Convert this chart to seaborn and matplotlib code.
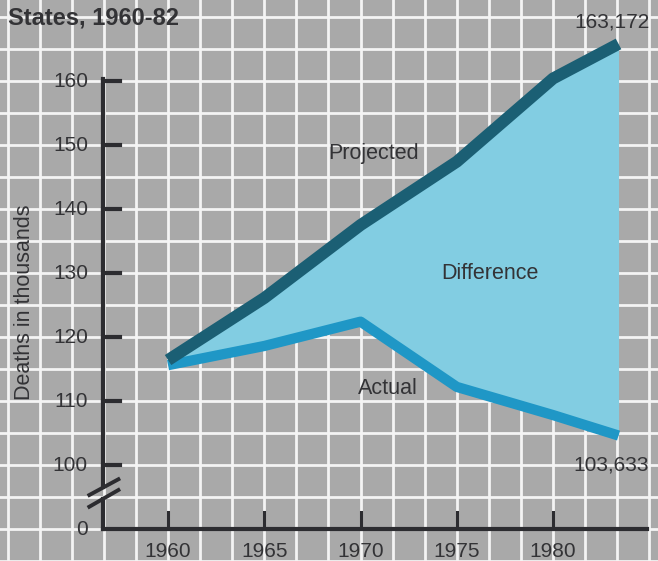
import numpy as np
import seaborn as sns
import matplotlib
matplotlib.use("Agg")
import matplotlib.pyplot as plt

# values (thousands of deaths)
years = [1960, 1965, 1970, 1975, 1980, 1983.4]
projected = [116.4, 126.1, 137.5, 147.4, 160.4, 165.8]
actual = [115.6, 118.6, 122.4, 112.2, 107.8, 104.6]

ytick_vals = [100, 110, 120, 130, 140, 150, 160]
xtick_vals = [1960, 1965, 1970, 1975, 1980]
zero_pos = 90  # where the "0" sits below the axis break
end_labels = ["163,172", "103,633"]

plt.rcParams['font.family'] = ['Liberation Sans', 'DejaVu Sans']
ink = '#333336'
axis_col = '#2c2c30'

fig = plt.figure(figsize=(6.58, 5.61), dpi=100)
ax = fig.add_axes([0, 0, 1, 1])
ax.set_facecolor('#a9a9a9')
for s in ax.spines.values():
    s.set_visible(False)

# graph-paper grid
ax.set_xticks(np.arange(1960 - 6 * 5 / 3, 1987, 5 / 3))
ax.set_yticks(np.arange(85, 175, 5))
ax.grid(True, color='#f4f4f4', lw=2.0)
ax.tick_params(length=0, labelbottom=False, labelleft=False)
ax.set_axisbelow(True)

# difference area and the two lines
ax.fill_between(years, actual, projected, color='#82cde2', lw=0, zorder=2)
sns.lineplot(x=years, y=actual, ax=ax, color='#1f97c6', lw=7.4, sort=False,
             solid_capstyle='butt', zorder=3)
sns.lineplot(x=years, y=projected, ax=ax, color='#1b5f74', lw=8.6, sort=False,
             solid_capstyle='butt', zorder=4)

# hand drawn style axes with a break
ax_x = 1956.62
ax.plot([ax_x, ax_x], [160.3, 96.5], color=axis_col, lw=3, solid_capstyle='projecting', zorder=5)
ax.plot([ax_x, ax_x], [94.75, zero_pos], color=axis_col, lw=3, zorder=5)
ax.plot([ax_x, 1984.9], [zero_pos, zero_pos], color=axis_col, lw=3, solid_capstyle='projecting', zorder=5)
ax.plot([1955.91, 1957.42], [95.31, 97.77], color=axis_col, lw=2.8, zorder=5)
ax.plot([1955.91, 1957.42], [93.48, 96.09], color=axis_col, lw=2.8, zorder=5)
for v in ytick_vals:
    ax.plot([ax_x, 1957.5], [v, v], color=axis_col, lw=3, zorder=5)
    ax.text(1955.84, v, str(v), ha='right', va='center', fontsize=15, color=ink)
ax.text(1955.84, zero_pos, '0', ha='right', va='center', fontsize=15, color=ink)
for yr in xtick_vals:
    ax.plot([yr, yr], [zero_pos, 92.6], color=axis_col, lw=2.2, zorder=5)
    ax.text(yr, 87.9, str(yr), ha='center', va='top', fontsize=15, color=ink)

# annotations
ax.text(1970.65, 148.75, 'Projected', ha='center', va='center', fontsize=15.5, color=ink, zorder=6)
ax.text(1976.73, 130.0, 'Difference', ha='center', va='center', fontsize=15.5, color=ink, zorder=6)
ax.text(1971.4, 111.9, 'Actual', ha='center', va='center', fontsize=15.5, color=ink, zorder=6)
ax.text(1985.0, 169.2, end_labels[0], ha='right', va='center', fontsize=15, color=ink)
ax.text(1985.0, 100.0, end_labels[1], ha='right', va='center', fontsize=15, color=ink)

ax.text(1952.55, 125.5, 'Deaths in thousands', rotation=90, ha='center', va='center',
        fontsize=15.5, color=ink)
fig.text(0.012, 1 - 18 / 561, 'States, 1960-82', ha='left', va='center',
         fontsize=17, fontweight='bold', color=ink)

# limits last, so the grid ticks do not widen the view
ax.set_xlim(1951.27, 1985.45)
ax.set_ylim(85, 172.66)

fig.savefig('out.png', dpi=100)
